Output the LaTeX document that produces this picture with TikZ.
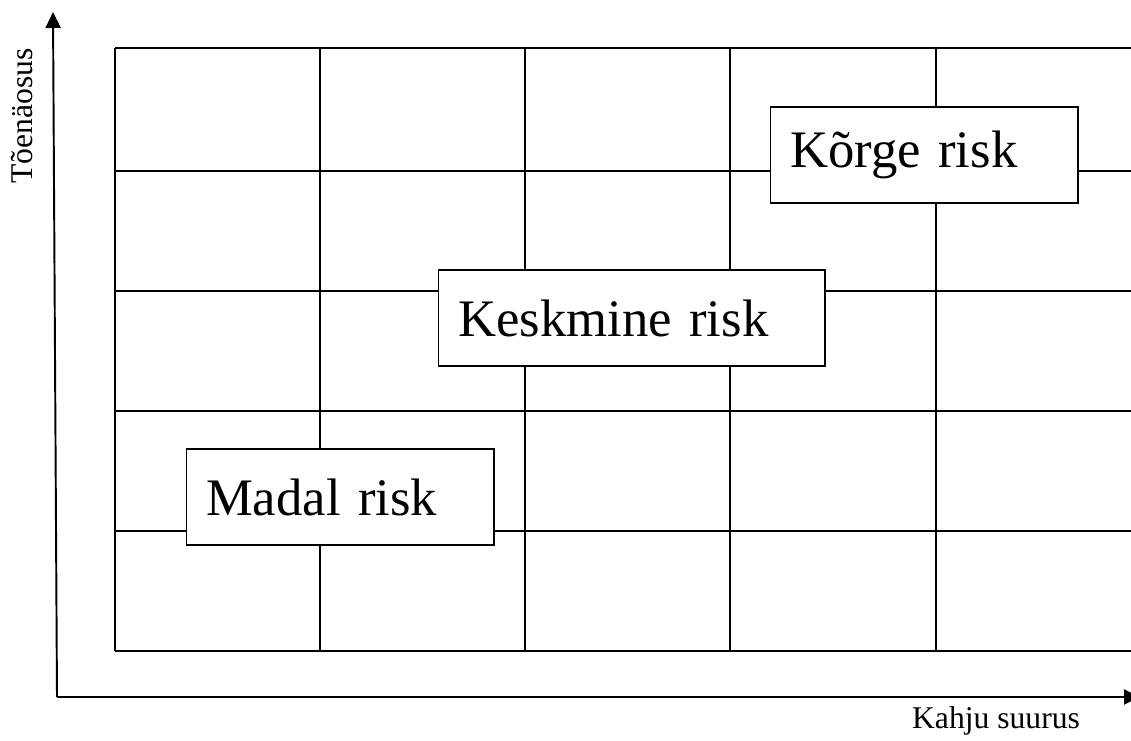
\documentclass[tikz,border=0pt]{standalone}
\usepackage{fontspec}
\setmainfont{Liberation Serif}
\usetikzlibrary{arrows.meta}

\begin{document}
\begin{tikzpicture}[x=0.02cm,y=-0.02cm,line width=1.1pt,
  riskbox/.style={draw,fill=white,line width=0.6pt,inner xsep=0.4cm,
    minimum height=1.92cm,align=left,font=\fontsize{30}{36}\selectfont},
  axlabel/.style={font=\fontsize{18}{22}\selectfont}]
\useasboundingbox (0,0) rectangle (1131,740);
% grid
\foreach \x in {115,320,525,730,936}
  \draw (\x,48) -- (\x,651);
\foreach \y in {48,171,291,411,531,651}
  \draw (115,\y) -- (1140,\y);
\draw [line width=1.6pt] (115,171) -- (320,171);
\draw [line width=1.6pt] (115,291) -- (320,291);
% axes
\coordinate (o) at (57,697);
\coordinate (ytop) at (53,12);
\coordinate (xend) at (1140,697);
\draw [-{Triangle[length=0.32cm,width=0.3cm]}] (o) -- (ytop);
\draw [-{Triangle[length=0.32cm,width=0.3cm]}] (o) -- (xend);
\node (ylab) at (22,116) [axlabel,rotate=90]{Tõenäosus};
\node (xlab) at (996,721) [axlabel]{Kahju suurus};
% risk levels
\node (high) at (924,155) [riskbox,text width=5.36cm]{Kõrge risk};
\node (mid) at (631.5,318) [riskbox,text width=6.94cm]{Keskmine risk};
\node (low) at (340,497) [riskbox,text width=5.36cm]{Madal risk};
\end{tikzpicture}
\end{document}
